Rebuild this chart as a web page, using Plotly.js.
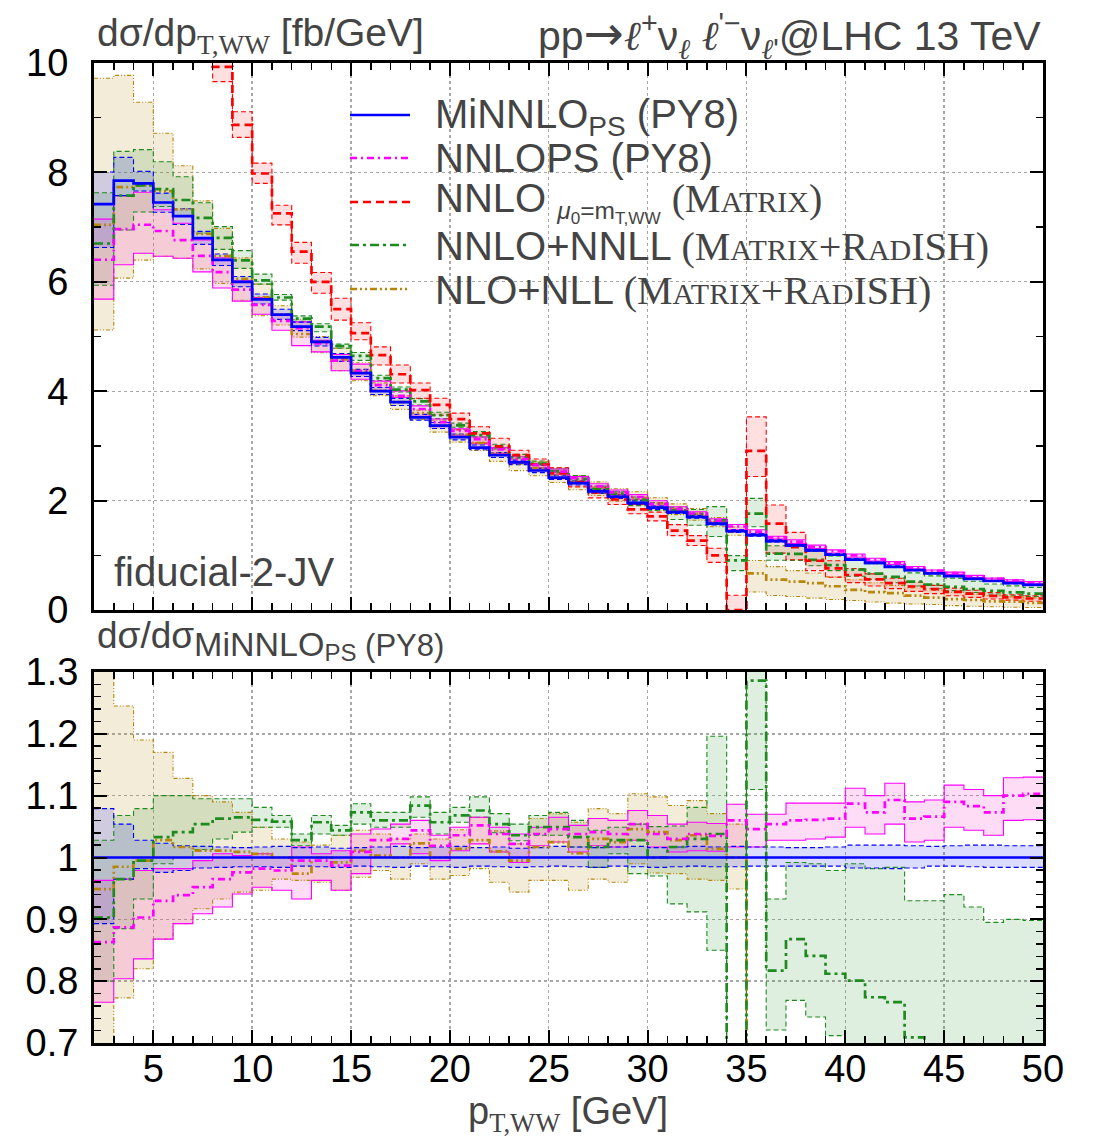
<!DOCTYPE html>
<html><head><meta charset="utf-8">
<script src="https://cdn.plot.ly/plotly-3.0.1.min.js"></script>
<style>html,body{margin:0;padding:0;background:#fff}</style>
</head><body>
<div id="chart" style="width:1093px;height:1141px"></div>
<script>
// ---------------- data ----------------
const binEdges = [2,3,4,5,6,7,8,9,10,11,12,13,14,15,16,17,18,19,20,21,22,23,24,25,26,27,28,29,30,31,32,33,34,35,36,37,38,39,40,41,42,43,44,45,46,47,48,49,50];
const xTickVals = [5,10,15,20,25,30,35,40,45,50];
const yTickVals = [0,2,4,6,8,10];
const ratioTickVals = [0.7,0.8,0.9,1.0,1.1,1.2,1.3];
const ratioTickText = ['0.7','0.8','0.9','1','1.1','1.2','1.3'];

// MiNNLO_PS (PY8) central [fb/GeV]
const minnlo = [7.42,7.85,7.80,7.45,7.20,6.80,6.40,6.00,5.68,5.40, 5.18,4.90,4.62,4.33,4.00,3.80,3.52,3.37,3.16,2.97, 2.83,2.70,2.55,2.42,2.32,2.17,2.07,1.96,1.87,1.79, 1.70,1.58,1.44,1.37,1.26,1.18,1.09,1.01,0.92,0.86, 0.79,0.73,0.67,0.62,0.57,0.53,0.49,0.46];
// MiNNLO band (ratio to MiNNLO central)
const minnloHiR = [1.079,1.054,1.028,1.023,1.019,1.018,1.017,1.016,1.017,1.018, 1.016,1.017,1.015,1.016,1.017,1.018,1.016,1.017,1.018,1.016, 1.017,1.015,1.016,1.018,1.017,1.016,1.017,1.018,1.016,1.017, 1.018,1.017,1.018,1.017,1.017,1.016,1.016,1.017,1.020,1.020, 1.020,1.019,1.018,1.019,1.020,1.020,1.019,1.019];
const minnloLoR = [0.893,0.965,0.982,0.976,0.979,0.983,0.984,0.985,0.985,0.984, 0.986,0.985,0.984,0.986,0.985,0.984,0.986,0.985,0.984,0.986, 0.985,0.984,0.985,0.986,0.985,0.984,0.986,0.985,0.984,0.985, 0.986,0.985,0.985,0.986,0.986,0.986,0.986,0.986,0.983,0.983, 0.982,0.983,0.986,0.986,0.985,0.984,0.984,0.984];

// NNLOPS (PY8), ratio to MiNNLO
const nnlopsR = [0.863,0.887,0.903,0.930,0.939,0.952,0.965,0.976,0.982,0.979, 0.995,0.995,0.987,1.009,1.028,1.030,1.044,1.019,1.036,1.052, 1.038,1.022,1.038,1.046,1.038,1.041,1.038,1.054,1.038,1.030, 1.038,1.035,1.060,1.046,1.054,1.060,1.061,1.063,1.087,1.073, 1.093,1.063,1.066,1.090,1.083,1.073,1.100,1.103];
const nnlopsHiR = [0.963,0.965,0.979,0.982,0.982,0.995,1.006,1.003,1.006,1.000, 1.017,1.006,1.011,1.038,1.046,1.054,1.060,1.036,1.049,1.065, 1.049,1.038,1.049,1.065,1.052,1.063,1.060,1.076,1.068,1.054, 1.057,1.055,1.086,1.070,1.070,1.088,1.088,1.088,1.112,1.100, 1.120,1.090,1.093,1.117,1.110,1.100,1.129,1.130];
const nnlopsLoR = [0.766,0.804,0.836,0.868,0.893,0.909,0.920,0.941,0.952,0.947, 0.933,0.963,0.947,0.974,1.000,1.022,1.006,0.995,1.011,1.022, 1.009,0.992,1.019,1.025,1.009,1.019,1.017,1.028,1.017,1.009, 1.011,1.010,1.017,1.017,1.028,1.028,1.030,1.033,1.049,1.038, 1.054,1.025,1.028,1.049,1.044,1.036,1.060,1.061];

// NNLO+NNLL (MATRIX+RadISH), ratio to MiNNLO
const nnllR = [0.903,0.965,0.995,1.033,1.041,1.054,1.063,1.065,1.061,1.058, 1.028,1.057,1.044,1.073,1.060,1.060,1.084,1.057,1.068,1.076, 1.054,1.036,1.049,1.049,1.033,1.017,1.028,1.028,1.000,1.017, 1.030,1.038,0.630,1.286,0.817,0.868,0.841,0.812,0.801,0.774, 0.766,0.709,0.690,0.680,0.670,0.660,0.660,0.650];
const nnllHiR = [1.028,1.068,1.079,1.100,1.100,1.095,1.095,1.095,1.081,1.068, 1.038,1.068,1.052,1.087,1.073,1.073,1.098,1.073,1.081,1.098, 1.071,1.054,1.068,1.073,1.060,1.044,1.049,1.054,1.050,1.051, 1.081,1.196,0.690,1.490,0.933,0.992,0.990,0.979,0.990,0.982, 0.984,0.930,0.930,0.940,0.920,0.895,0.900,0.898];
const nnllLoR = [0.800,0.885,0.933,0.990,1.000,1.013,1.030,1.041,1.049,1.049, 1.019,1.038,1.036,1.054,1.049,1.049,1.065,1.038,1.057,1.065, 1.040,1.027,1.036,1.036,1.017,0.984,1.006,0.974,0.970,0.925, 0.912,0.850,0.500,1.110,0.721,0.769,0.742,0.712,0.670,0.650, 0.630,0.600,0.580,0.570,0.560,0.550,0.550,0.540];

// NLO+NLL (MATRIX+RadISH), ratio to MiNNLO
const nllR = [0.949,0.985,0.995,1.028,1.017,1.011,1.011,1.009,1.006,1.000, 0.974,1.000,0.992,1.011,1.003,1.000,1.023,1.000,1.014,1.028, 1.010,0.995,1.017,1.025,1.007,1.030,1.025,1.046,1.041,1.028, 1.036,1.014,1.000,0.490,0.440,0.440,0.450,0.430,0.400,0.380, 0.390,0.360,0.340,0.320,0.320,0.300,0.310,0.280];
const nllHiR = [1.310,1.245,1.190,1.170,1.128,1.100,1.090,1.073,1.049,1.030, 1.025,1.020,1.036,1.044,1.038,1.030,1.038,1.030,1.045,1.065, 1.043,1.022,1.063,1.071,1.057,1.079,1.071,1.103,1.098,1.084, 1.092,1.071,1.054,0.660,0.630,0.610,0.620,0.600,0.600,0.580, 0.570,0.550,0.540,0.520,0.510,0.490,0.490,0.480];
const nllLoR = [0.690,0.773,0.820,0.868,0.893,0.917,0.933,0.944,0.947,0.965, 0.963,0.960,0.947,0.968,0.979,0.965,0.990,0.965,0.971,0.982, 0.960,0.944,0.963,0.963,0.947,0.965,0.960,0.990,0.975,0.974, 0.965,0.963,0.949,0.240,0.210,0.210,0.200,0.190,0.190,0.170, 0.160,0.150,0.150,0.130,0.120,0.110,0.100,0.100];

// NNLO mu0=mT,WW (MATRIX) [fb/GeV] (upper panel only)
const nnlo = [18,16,14,12.8,11.7,10.8,9.93,8.87,7.98,7.25, 6.55,6.0,5.5,5.06,4.66,4.31,4.02,3.75,3.49,3.23, 2.99,2.83,2.66,2.5,2.34,2.15,2.02,1.84,1.71,1.45, 1.27,1.0,0,2.91,1.58,1.15,0.9,0.76,0.64,0.56, 0.49,0.43,0.38,0.33,0.3,0.26,0.23,0.21];
const nnloLo = [17,15.2,13.3,12.2,11.1,10.3,9.66,8.64,7.8,7.04, 6.34,5.79,5.3,4.94,4.48,4.15,3.87,3.56,3.29,3.05, 2.87,2.68,2.56,2.4,2.25,2.05,1.93,1.76,1.63,1.36, 1.18,0.87,-0.05,2.44,1.04,0.92,0.72,0.6,0.5,0.44, 0.39,0.34,0.3,0.26,0.23,0.2,0.18,0.16];
const nnloHi = [19,16.8,14.7,13.4,12.3,11.3,10.25,9.11,8.17,7.4, 6.72,6.17,5.7,5.25,4.81,4.48,4.15,3.87,3.6,3.35, 3.14,2.92,2.76,2.6,2.44,2.24,2.11,1.93,1.79,1.56, 1.36,1.13,0.27,3.53,1.92,1.42,1.1,0.9,0.76,0.66, 0.58,0.51,0.45,0.4,0.36,0.32,0.28,0.26];

// ---------------- helpers ----------------
const ones = minnlo.map(() => 1);
const toAbs = r => r.map((v, i) => v * minnlo[i]);

function stepTrace(vals, xa, ya, color, width, dash) {
  return { type: 'scatter', mode: 'lines', x: binEdges, y: vals.concat([vals[vals.length - 1]]),
    xaxis: xa, yaxis: ya, line: { shape: 'hv', color: color, width: width, dash: dash },
    hoverinfo: 'skip', showlegend: false };
}
function bandTrace(lo, hi, xa, ya, fill) {
  const xs = [], ys = [];
  for (let i = 0; i < hi.length; i++) { xs.push(binEdges[i], binEdges[i + 1]); ys.push(hi[i], hi[i]); }
  for (let i = lo.length - 1; i >= 0; i--) { xs.push(binEdges[i + 1], binEdges[i]); ys.push(lo[i], lo[i]); }
  xs.push(xs[0]); ys.push(ys[0]);
  return { type: 'scatter', mode: 'lines', x: xs, y: ys, xaxis: xa, yaxis: ya, fill: 'toself',
    fillcolor: fill, line: { width: 0 }, hoverinfo: 'skip', showlegend: false };
}

const C = { blue: '#0000ff', mag: '#ff00ff', red: '#ff0000', green: '#1f8a1f', tan: '#b8860b' };
const F = {
  blue: 'rgba(40,40,255,0.17)', mag: 'rgba(255,40,200,0.16)', red: 'rgba(255,40,40,0.15)',
  green: 'rgba(30,140,30,0.14)', tan: 'rgba(184,140,30,0.17)'
};
const D = {
  mag: '7px,4px,2px,4px', red: '8px,5px', green: '9px,4px,3px,4px', tan: '7px,3px,2px,3px,2px,3px',
  bandDash: '5px,3px', tanBand: '4px,2px,1px,2px,1px,2px'
};

function seriesSet(panel) {
  const xa = panel === 'top' ? 'x' : 'x2';
  const ya = panel === 'top' ? 'y' : 'y2';
  const conv = panel === 'top' ? toAbs : (r => r);
  const s = [
    { c: conv(nllR), lo: conv(nllLoR), hi: conv(nllHiR), col: C.tan, fill: F.tan, dash: D.tan, edge: D.tanBand },
    { c: conv(nnllR), lo: conv(nnllLoR), hi: conv(nnllHiR), col: C.green, fill: F.green, dash: D.green, edge: D.bandDash }
  ];
  if (panel === 'top') s.push({ c: nnlo, lo: nnloLo, hi: nnloHi, col: C.red, fill: F.red, dash: D.red, edge: D.bandDash });
  s.push({ c: conv(nnlopsR), lo: conv(nnlopsLoR), hi: conv(nnlopsHiR), col: C.mag, fill: F.mag, dash: D.mag, edge: 'solid' });
  s.push({ c: panel === 'top' ? minnlo : ones, lo: conv(minnloLoR), hi: conv(minnloHiR), col: C.blue, fill: F.blue, dash: 'solid', edge: D.bandDash });
  const tr = [];
  s.forEach(o => tr.push(bandTrace(o.lo, o.hi, xa, ya, o.fill)));
  s.forEach(o => { tr.push(stepTrace(o.hi, xa, ya, o.col, 1.1, o.edge)); tr.push(stepTrace(o.lo, xa, ya, o.col, 1.1, o.edge)); });
  s.forEach(o => tr.push(stepTrace(o.c, xa, ya, o.col, 2.7, o.dash)));
  return tr;
}
const traces = seriesSet('top').concat(seriesSet('bottom'));

// ---------------- layout ----------------
const L = 94, R = 50, T = 63, B = 98, W = 1093, H = 1141;
const PW = W - L - R, PH = H - T - B;
const px = p => (p - L) / PW;
const py = p => (H - B - p) / PH;

const SANS = 'Liberation Sans, Arial, Helvetica, sans-serif';
const SERIF = 'Liberation Serif';
const tickFont = { family: SANS, size: 38, color: '#000' };
const axBase = {
  showline: true, linecolor: '#000', linewidth: 3, mirror: 'allticks',
  ticks: 'inside', ticklen: 13, tickwidth: 2, tickcolor: '#000',
  zeroline: false, showgrid: true, gridcolor: '#a8a8a8', griddash: 'dot', gridwidth: 1.4,
  tickfont: tickFont, fixedrange: true
};
const minorX = { ticks: 'inside', ticklen: 7, tickwidth: 1.5, tickcolor: '#000', dtick: 1, tick0: 0, showgrid: false };

const sc = t => `<span style="font-size:30px">${t}</span>`;
const serif = t => `<span style="font-family:${SERIF};font-size:40px">${t}</span>`;
const matrix = 'M' + sc('ATRIX');
const radish = 'R' + sc('AD') + 'ISH';
const ell = `<span style="font-family:DejaVu Serif"><i>ℓ</i></span>`;

const annotations = [
  { text: `dσ/dp<sub><span style="font-family:${SERIF}">T,WW</span></sub> [fb/GeV]`, x: px(95), y: py(35), xanchor: 'left', yanchor: 'middle', font: { family: SANS, size: 39 } },
  { text: `pp<span style="font-family:DejaVu Sans;font-size:48px">→</span>${ell}<sup>+</sup>ν<sub>${ell}</sub> ${ell}<sup>'−</sup>ν<sub>${ell}'</sub>@LHC 13 TeV`, x: px(1043), y: py(35), xanchor: 'right', yanchor: 'middle', font: { family: SANS, size: 41 } },
  { text: 'dσ/dσ<sub><span style="font-size:34px">MiNNLO</span><sub><span style="font-size:24px">PS</span></sub><span style="font-size:31px"> (PY8)</span></sub>', x: px(95), y: py(640), xanchor: 'left', yanchor: 'middle', font: { family: SANS, size: 37 } },
  { text: 'fiducial-2-JV', x: px(112), y: py(572), xanchor: 'left', yanchor: 'middle', font: { family: SANS, size: 40 } },
  { text: `p<sub><span style="font-family:${SERIF}">T,WW</span></sub> [GeV]`, x: px(568), y: py(1114), xanchor: 'center', yanchor: 'middle', font: { family: SANS, size: 38 } },
  // legend texts
  { text: 'MiNNLO<sub>PS</sub> (PY8)', x: px(433), y: py(117), xanchor: 'left', yanchor: 'middle', font: { family: SANS, size: 40 } },
  { text: 'NNLOPS (PY8)', x: px(433), y: py(158), xanchor: 'left', yanchor: 'middle', font: { family: SANS, size: 40 } },
  { text: `NNLO <span style="font-size:35px"><sub><i>μ</i><sub>0</sub>=m<sub>T,WW</sub></sub></span> ` + serif('(' + matrix + ')'), x: px(433), y: py(202), xanchor: 'left', yanchor: 'middle', font: { family: SANS, size: 40 } },
  { text: 'NNLO+NNLL ' + serif('(' + matrix + '+' + radish + ')'), x: px(433), y: py(246), xanchor: 'left', yanchor: 'middle', font: { family: SANS, size: 40 } },
  { text: 'NLO+NLL ' + serif('(' + matrix + '+' + radish + ')'), x: px(433), y: py(290), xanchor: 'left', yanchor: 'middle', font: { family: SANS, size: 40 } }
].map(a => Object.assign({ xref: 'paper', yref: 'paper', showarrow: false }, a));

const legendRows = [
  { y: 115, col: C.blue, dash: 'solid' },
  { y: 158, col: C.mag, dash: D.mag },
  { y: 202, col: C.red, dash: D.red },
  { y: 245, col: C.green, dash: D.green },
  { y: 289, col: C.tan, dash: D.tan }
];
const shapes = [
  { type: 'rect', xref: 'paper', yref: 'paper', x0: px(326), x1: px(1005), y0: py(318), y1: py(92),
    fillcolor: '#ffffff', line: { width: 0 }, layer: 'between' }
].concat(legendRows.map(r => ({ type: 'line', xref: 'paper', yref: 'paper', x0: px(350), x1: px(410), y0: py(r.y), y1: py(r.y),
    line: { color: r.col, width: 2.7, dash: r.dash } })));

const layout = {
  width: W, height: H, margin: { l: L, r: R, t: T, b: B },
  paper_bgcolor: '#fff', plot_bgcolor: '#fff', showlegend: false,
  xaxis: Object.assign({}, axBase, { domain: [0, 1], anchor: 'y', range: [2, 50], tickvals: xTickVals, showticklabels: false, minor: minorX }),
  yaxis: Object.assign({}, axBase, { domain: [py(610), 1], anchor: 'x', range: [0, 10], tickvals: yTickVals, ticklabelstandoff: 15,
    minor: { ticks: 'inside', ticklen: 7, tickwidth: 1.5, tickcolor: '#000', dtick: 1, tick0: 0, showgrid: false } }),
  xaxis2: Object.assign({}, axBase, { domain: [0, 1], anchor: 'y2', range: [2, 50], tickvals: xTickVals, ticklabelstandoff: -10, minor: minorX }),
  yaxis2: Object.assign({}, axBase, { domain: [0, py(672)], anchor: 'x2', range: [0.7, 1.3], tickvals: ratioTickVals, ticktext: ratioTickText, ticklabelstandoff: 5,
    minor: { ticks: 'inside', ticklen: 7, tickwidth: 1.5, tickcolor: '#000', dtick: 0.02, tick0: 0.7, showgrid: false } }),
  annotations: annotations,
  shapes: shapes
};

Plotly.newPlot('chart', traces, layout, { staticPlot: true, displayModeBar: false });
</script>
</body></html>
